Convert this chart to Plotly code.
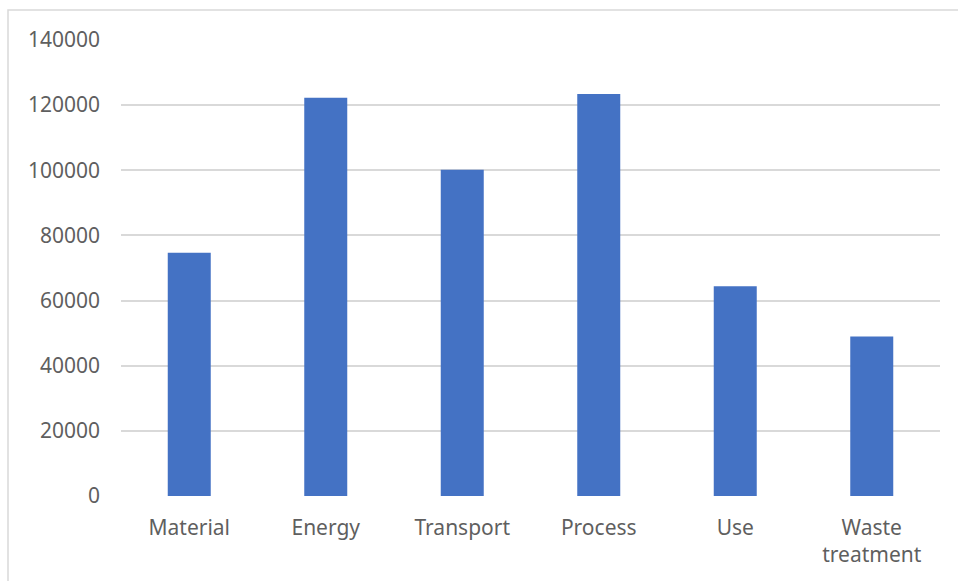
import plotly.graph_objects as go

# Life-cycle stage totals
stages = ["Material", "Energy", "Transport", "Process", "Use", "Waste<br>treatment"]
values = [74700, 122300, 100200, 123400, 64400, 49000]
y_ticks = [0, 20000, 40000, 60000, 80000, 100000, 120000, 140000]

W, H = 958, 581
L, R, T, B = 121, 18, 40, 85
pw, ph = W - L - R, H - T - B

fig = go.Figure(
    go.Bar(
        x=stages,
        y=values,
        marker=dict(color="#4472C4", line=dict(width=0)),
    )
)

# light outer frame around the whole chart (left/top visible, right/bottom run off the page)
fx0 = (8 - L) / pw
fx1 = (W + 5 - L) / pw
fy1 = 1 + (T - 10) / ph
fy0 = -(H + 5 - (H - B)) / ph

fig.update_layout(
    width=W,
    height=H,
    margin=dict(l=L, r=R, t=T, b=B),
    paper_bgcolor="white",
    plot_bgcolor="white",
    font=dict(family="Noto Sans", size=21, color="#5f5f5f"),
    bargap=0.685,
    showlegend=False,
    shapes=[
        dict(
            type="rect", xref="paper", yref="paper",
            x0=fx0, x1=fx1, y0=fy0, y1=fy1,
            line=dict(color="#d9d9d9", width=1.5),
            fillcolor="rgba(0,0,0,0)",
            layer="below",
        )
    ],
    xaxis=dict(
        showgrid=False,
        showline=False,
        zeroline=False,
        ticks="",
        ticklabelstandoff=17,
        tickfont=dict(size=21, color="#5f5f5f"),
    ),
    yaxis=dict(
        range=[0, 140000],
        tickvals=y_ticks,
        ticktext=[str(v) for v in y_ticks],
        showgrid=True,
        gridcolor="#d9d9d9",
        gridwidth=1.5,
        zeroline=False,
        showline=False,
        ticks="",
        ticklabelstandoff=20,
        tickfont=dict(size=21, color="#5f5f5f"),
    ),
)

fig.write_html("out.html")
